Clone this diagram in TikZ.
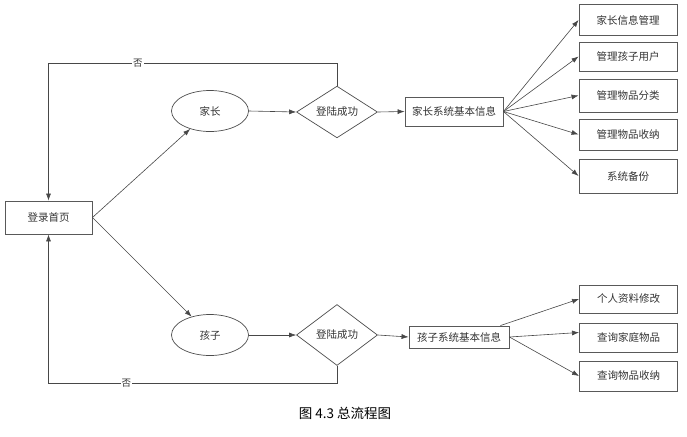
\documentclass[tikz,border=0pt]{standalone}
\usepackage{fontspec}
\setmainfont{Noto Sans CJK SC}
\usetikzlibrary{shapes.geometric,arrows.meta,calc}
\begin{document}
\begin{tikzpicture}[x=1pt,y=-1pt,
  every node/.style={text=black!80},
  conn/.style={draw=black!72, line width=0.6pt},
  arr/.style={conn, -{Latex[length=7pt,width=5pt]}},
  txt/.style={font=\fontsize{10.5}{12}\selectfont},
  box/.style={txt, rectangle, draw=black!65, line width=0.9pt, inner sep=0pt},
  sidebox/.style={box, minimum width=98pt, minimum height=31pt},
  ell/.style={txt, ellipse, draw=black!70, line width=0.7pt, inner sep=0pt, minimum width=77pt, minimum height=41pt},
  dia/.style={txt, diamond, draw=black!70, line width=0.7pt, inner sep=0pt, minimum width=81pt},
  nolabel/.style={fill=white, inner sep=1pt, font=\fontsize{9.5}{10}\selectfont}
]
\useasboundingbox (0,0) rectangle (687,436);

% left entry
\node[box, minimum width=87pt, minimum height=33pt] (login) at (48.5,217.5) {登录首页};

% parent branch
\node[ell] (parent) at (210,111) {家长};
\node[dia, minimum height=49pt] (pd) at (337,112) {登陆成功};
\node[box, minimum width=98pt, minimum height=29pt] (pbox) at (454,111.5) {家长系统基本信息};
\node[sidebox] (r1) at (628,20) {家长信息管理};
\node[sidebox, minimum height=29pt] (r2) at (628,56.5) {管理孩子用户};
\node[sidebox, minimum height=33pt] (r3) at (628,95.5) {管理物品分类};
\node[sidebox] (r4) at (628,134.5) {管理物品收纳};
\node[sidebox, minimum height=34pt] (r5) at (628,176) {系统备份};

% child branch
\node[ell] (child) at (210,335) {孩子};
\node[dia, minimum height=61pt] (cd) at (337,335) {登陆成功};
\node[box, minimum width=100pt, minimum height=22pt] (cbox) at (459,337) {孩子系统基本信息};
\node[sidebox, minimum height=28pt] (s1) at (628.5,299) {个人资料修改};
\node[sidebox, minimum height=29pt] (s2) at (628.5,337.5) {查询家庭物品};
\node[sidebox, minimum height=30pt] (s3) at (628.5,376) {查询物品收纳};

% caption
\node[font=\fontsize{13.5}{15}\selectfont, text=black] (cap) at (345,413) {图 4.3 总流程图};

% connectors
\coordinate (topy) at (0,63);
\coordinate (boty) at (0,383);

\draw[arr] (login.east) -- (parent);
\draw[arr] (login.east) -- (child);
\draw[arr] (parent.east) -- (pd.west);
\draw[arr] (pd.east) -- (pbox.west);
\draw[arr] (child.east) -- (cd.west);
\draw[arr] (cd.east) -- (cbox.west);

\draw[arr] (pd.north) -- (pd.north |- topy) -- node[nolabel, pos=0.69] {否} (login.north |- topy) -- (login.north);
\draw[arr] (cd.south) -- (cd.south |- boty) -- node[nolabel, pos=0.73] {否} (login.south |- boty) -- (login.south);

\foreach \t in {r1,r2,r3,r4,r5} \draw[arr] (pbox.east) -- (\t.west);

\draw[arr] ($(cbox.north east)+(-9,0)$) -- (s1.west);
\draw[arr] (cbox.east) -- ($(s2.west)+(0,-5)$);
\draw[arr] (cbox.east) -- (s3.west);
\end{tikzpicture}
\end{document}
